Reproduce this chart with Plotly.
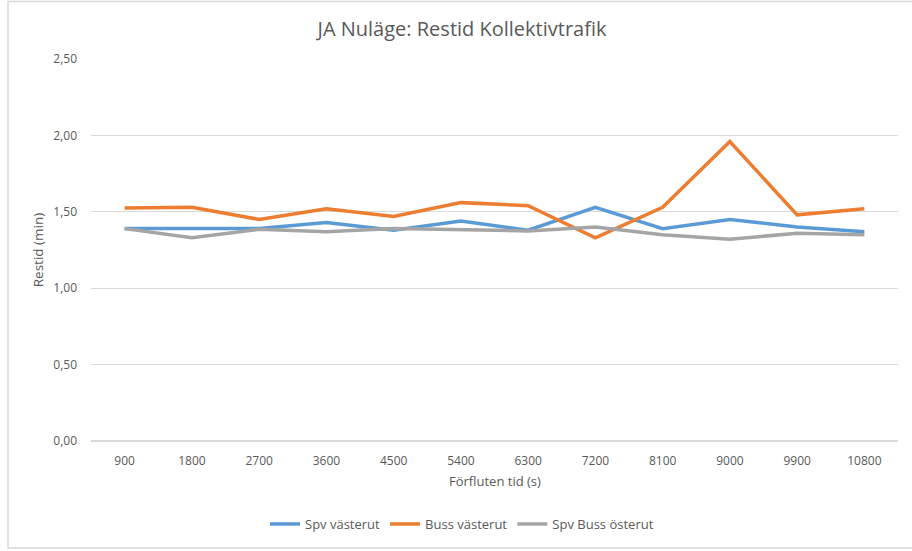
import plotly.graph_objects as go

categories = ["900", "1800", "2700", "3600", "4500", "5400", "6300", "7200", "8100", "9000", "9900", "10800"]
spv_vasterut = [1.39, 1.39, 1.39, 1.43, 1.38, 1.44, 1.38, 1.53, 1.39, 1.45, 1.40, 1.37]
buss_vasterut = [1.525, 1.53, 1.45, 1.52, 1.47, 1.56, 1.54, 1.33, 1.53, 1.96, 1.48, 1.52]
spv_buss_osterut = [1.39, 1.33, 1.385, 1.37, 1.39, 1.38, 1.375, 1.40, 1.35, 1.32, 1.36, 1.35]

series_names = ["Spv västerut", "Buss västerut", "Spv Buss österut"]
colors = ["#5B9BD5", "#ED7D31", "#A5A5A5"]
x_title = "Förfluten tid (s)"

FONT = "Open Sans, Noto Sans, sans-serif"
TXT = "#595959"

fig = go.Figure()
for name, vals, col in zip(series_names, [spv_vasterut, buss_vasterut, spv_buss_osterut], colors):
    fig.add_trace(go.Scatter(x=categories, y=vals, mode="lines", name=name,
                             line=dict(color=col, width=3.5)))

L, R, T, B = 91, 14, 59, 110
W, H = 912, 551
pw, ph = W - L - R, H - T - B

def px_x(p):
    return (p - L) / pw

def px_y(p):
    return (H - B - p) / ph

fig.update_layout(
    width=W, height=H,
    margin=dict(l=L, r=R, t=T, b=B, autoexpand=False),
    paper_bgcolor="white", plot_bgcolor="white",
    separators=",.",
    font=dict(family=FONT, color=TXT, size=12),
    title=dict(text="JA Nuläge: Restid Kollektivtrafik", x=462 / W, xanchor="center",
               y=1 - 29 / H, yanchor="middle",
               font=dict(family=FONT, size=20, color=TXT)),
    xaxis=dict(type="category", range=[-0.5, len(categories) - 0.5],
               showgrid=False, showline=False, ticks="outside", ticklen=9,
               tickcolor="rgba(0,0,0,0)", automargin=False,
               tickfont=dict(size=12, color=TXT)),
    yaxis=dict(range=[0, 2.5], dtick=0.5, tickformat=".2f", showgrid=True,
               gridcolor="#D9D9D9", gridwidth=1, zeroline=True, zerolinecolor="#D9D9D9",
               showline=False, ticks="", ticklabelstandoff=13, automargin=False,
               tickfont=dict(size=12, color=TXT),
               title=dict(text="Restid (min)", font=dict(size=13.5, color=TXT), standoff=6)),
    legend=dict(orientation="h", x=px_x(462), xanchor="center", y=px_y(524), yanchor="middle",
                font=dict(size=13, color=TXT), itemwidth=30, tracegroupgap=0,
                bgcolor="rgba(0,0,0,0)"),
    showlegend=True,
    annotations=[dict(text=x_title, xref="paper", yref="paper", x=0.5, y=px_y(470),
                      xanchor="center", yanchor="top", showarrow=False,
                      font=dict(size=13, color=TXT))],
    shapes=[dict(type="rect", xref="paper", yref="paper",
                 x0=px_x(8), x1=px_x(930), y0=px_y(548), y1=px_y(1.5),
                 line=dict(color="#D9D9D9", width=1.5), layer="below")],
)

fig.write_html("out.html", config={"displayModeBar": False},
               post_script="document.body.style.margin='0';document.body.style.padding='0';")
